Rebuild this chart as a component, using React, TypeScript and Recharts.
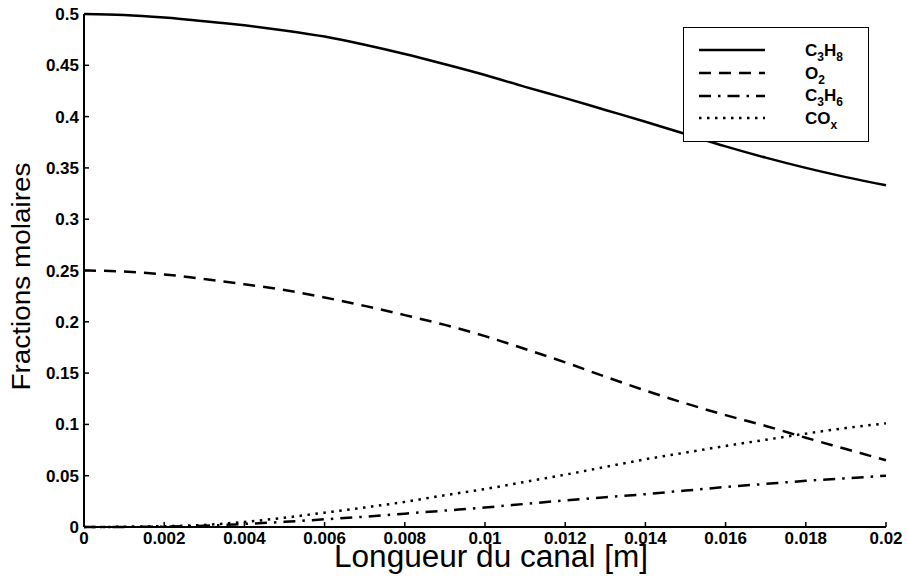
import { LineChart, Line, XAxis, YAxis, Legend, Label } from "recharts";

const FONT = "'Liberation Sans', Arial, Helvetica, sans-serif";

// channel length positions [m]
const X_VALUES = [
  0, 0.001, 0.002, 0.003, 0.004, 0.005, 0.006, 0.007, 0.008, 0.009, 0.01,
  0.011, 0.012, 0.013, 0.014, 0.015, 0.016, 0.017, 0.018, 0.019, 0.02,
];

// molar fractions
const C3H8 = [
  0.5, 0.499, 0.4965, 0.493, 0.489, 0.484, 0.478, 0.47, 0.461, 0.451, 0.4405,
  0.429, 0.418, 0.4065, 0.395, 0.383, 0.371, 0.36, 0.35, 0.341, 0.333,
];
const O2 = [
  0.25, 0.249, 0.2462, 0.2417, 0.2365, 0.231, 0.2237, 0.2155, 0.2065, 0.197,
  0.186, 0.1735, 0.1605, 0.1465, 0.133, 0.1205, 0.109, 0.0985, 0.087, 0.076,
  0.065,
];
const C3H6 = [
  0, 0.0001, 0.0004, 0.0012, 0.003, 0.005, 0.0075, 0.01, 0.013, 0.016, 0.019,
  0.0225, 0.026, 0.029, 0.032, 0.0355, 0.039, 0.042, 0.045, 0.0475, 0.05,
];
const COX = [
  0, 0.0002, 0.0008, 0.002, 0.005, 0.009, 0.014, 0.019, 0.0245, 0.031, 0.037,
  0.044, 0.051, 0.0585, 0.066, 0.0725, 0.079, 0.085, 0.091, 0.0965, 0.101,
];

const X_TICKS = [0, 0.002, 0.004, 0.006, 0.008, 0.01, 0.012, 0.014, 0.016, 0.018, 0.02];
const Y_TICKS = [0, 0.05, 0.1, 0.15, 0.2, 0.25, 0.3, 0.35, 0.4, 0.45, 0.5];

const data = X_VALUES.map((x, i) => ({
  x,
  c3h8: C3H8[i],
  o2: O2[i],
  c3h6: C3H6[i],
  cox: COX[i],
}));

// label parts: [base, subscript]
const SERIES = [
  { key: "c3h8", dash: undefined, parts: [["C", "3"], ["H", "8"]] },
  { key: "o2", dash: "12 8", parts: [["O", "2"]] },
  { key: "c3h6", dash: "12 7 2.5 7", parts: [["C", "3"], ["H", "6"]] },
  { key: "cox", dash: "2.5 5.5", parts: [["CO", "x"]] },
];

const tickStyle = { fill: "#000", fontSize: 17, fontWeight: 700, fontFamily: FONT };
const axisLine = { stroke: "#000", strokeWidth: 2 };
const tickLine = { stroke: "#000", strokeWidth: 1.5 };

function LegendBox() {
  return (
    <div
      style={{
        boxSizing: "border-box",
        width: 186,
        height: 115,
        border: "1.5px solid #000",
        background: "#fff",
        paddingTop: 11,
        fontFamily: FONT,
      }}
    >
      {SERIES.map((s) => (
        <div key={s.key} style={{ display: "flex", alignItems: "center", height: 22.7 }}>
          <svg width={100} height={10} style={{ marginLeft: 15 }}>
            <line
              x1={0}
              y1={5}
              x2={66}
              y2={5}
              stroke="#000"
              strokeWidth={2.5}
              strokeDasharray={s.dash}
            />
          </svg>
          <span
            style={{
              marginLeft: 6,
              fontSize: 17,
              fontWeight: 700,
              color: "#000",
              lineHeight: "17px",
            }}
          >
            {s.parts.map(([b, sub]) => (
              <span key={b}>
                {b}
                <sub style={{ fontSize: 12, verticalAlign: -5, lineHeight: 0 }}>{sub}</sub>
              </span>
            ))}
          </span>
        </div>
      ))}
    </div>
  );
}

// eslint-disable-next-line @typescript-eslint/no-explicit-any
function YTitle({ viewBox }: any) {
  const x = viewBox.x + 21;
  const y = viewBox.y + viewBox.height / 2 + 6;
  return (
    <text
      x={x}
      y={y}
      transform={`rotate(-90 ${x} ${y})`}
      textAnchor="middle"
      dominantBaseline="central"
      fontFamily={FONT}
      fontSize={25}
      textLength={228}
      lengthAdjust="spacingAndGlyphs"
      fill="#000"
    >
      Fractions molaires
    </text>
  );
}

// eslint-disable-next-line @typescript-eslint/no-explicit-any
function XTitle({ viewBox }: any) {
  const x = viewBox.x + viewBox.width / 2 + 6;
  const y = viewBox.y + 40;
  return (
    <text
      x={x}
      y={y}
      textAnchor="middle"
      fontFamily={FONT}
      fontSize={31}
      textLength={314}
      lengthAdjust="spacingAndGlyphs"
      fill="#000"
    >
      Longueur du canal [m]
    </text>
  );
}

export default function App() {
  return (
    <div style={{ position: "absolute", left: 0, top: 0, background: "#fff" }}>
      <LineChart
        width={908}
        height={577}
        data={data}
        margin={{ top: 14, right: 22, bottom: 0, left: 0 }}
      >
        <XAxis
          dataKey="x"
          type="number"
          domain={[0, 0.02]}
          ticks={X_TICKS}
          interval={0}
          height={50}
          tick={tickStyle}
          tickSize={-5}
          tickMargin={10}
          tickLine={tickLine}
          axisLine={axisLine}
          tickFormatter={(v: number) => String(v)}
        >
          <Label content={<XTitle />} />
        </XAxis>
        <XAxis
          xAxisId="top"
          orientation="top"
          type="number"
          domain={[0, 0.02]}
          allowDataOverflow
          ticks={X_TICKS}
          interval={0}
          height={0}
          tickSize={-5}
          tickLine={tickLine}
          axisLine={axisLine}
          tickFormatter={() => ""}
        />
        <YAxis
          type="number"
          domain={[0, 0.5]}
          ticks={Y_TICKS}
          interval={0}
          width={84}
          tick={tickStyle}
          tickSize={-5}
          tickMargin={10}
          tickLine={tickLine}
          axisLine={axisLine}
          tickFormatter={(v: number) => String(v)}
        >
          <Label content={<YTitle />} />
        </YAxis>
        <YAxis
          yAxisId="right"
          orientation="right"
          type="number"
          domain={[0, 0.5]}
          allowDataOverflow
          ticks={Y_TICKS}
          interval={0}
          width={0}
          tickSize={-5}
          tickLine={tickLine}
          axisLine={axisLine}
          tickFormatter={() => ""}
        />
        <Legend
          layout="vertical"
          align="center"
          verticalAlign="middle"
          content={<LegendBox />}
          wrapperStyle={{ left: 683, top: 27, width: 186, height: 115 }}
        />
        {SERIES.map((s) => (
          <Line
            key={s.key}
            dataKey={s.key}
            type="monotone"
            stroke="#000"
            strokeWidth={2.5}
            strokeDasharray={s.dash}
            dot={false}
            activeDot={false}
            isAnimationActive={false}
          />
        ))}
      </LineChart>
    </div>
  );
}
